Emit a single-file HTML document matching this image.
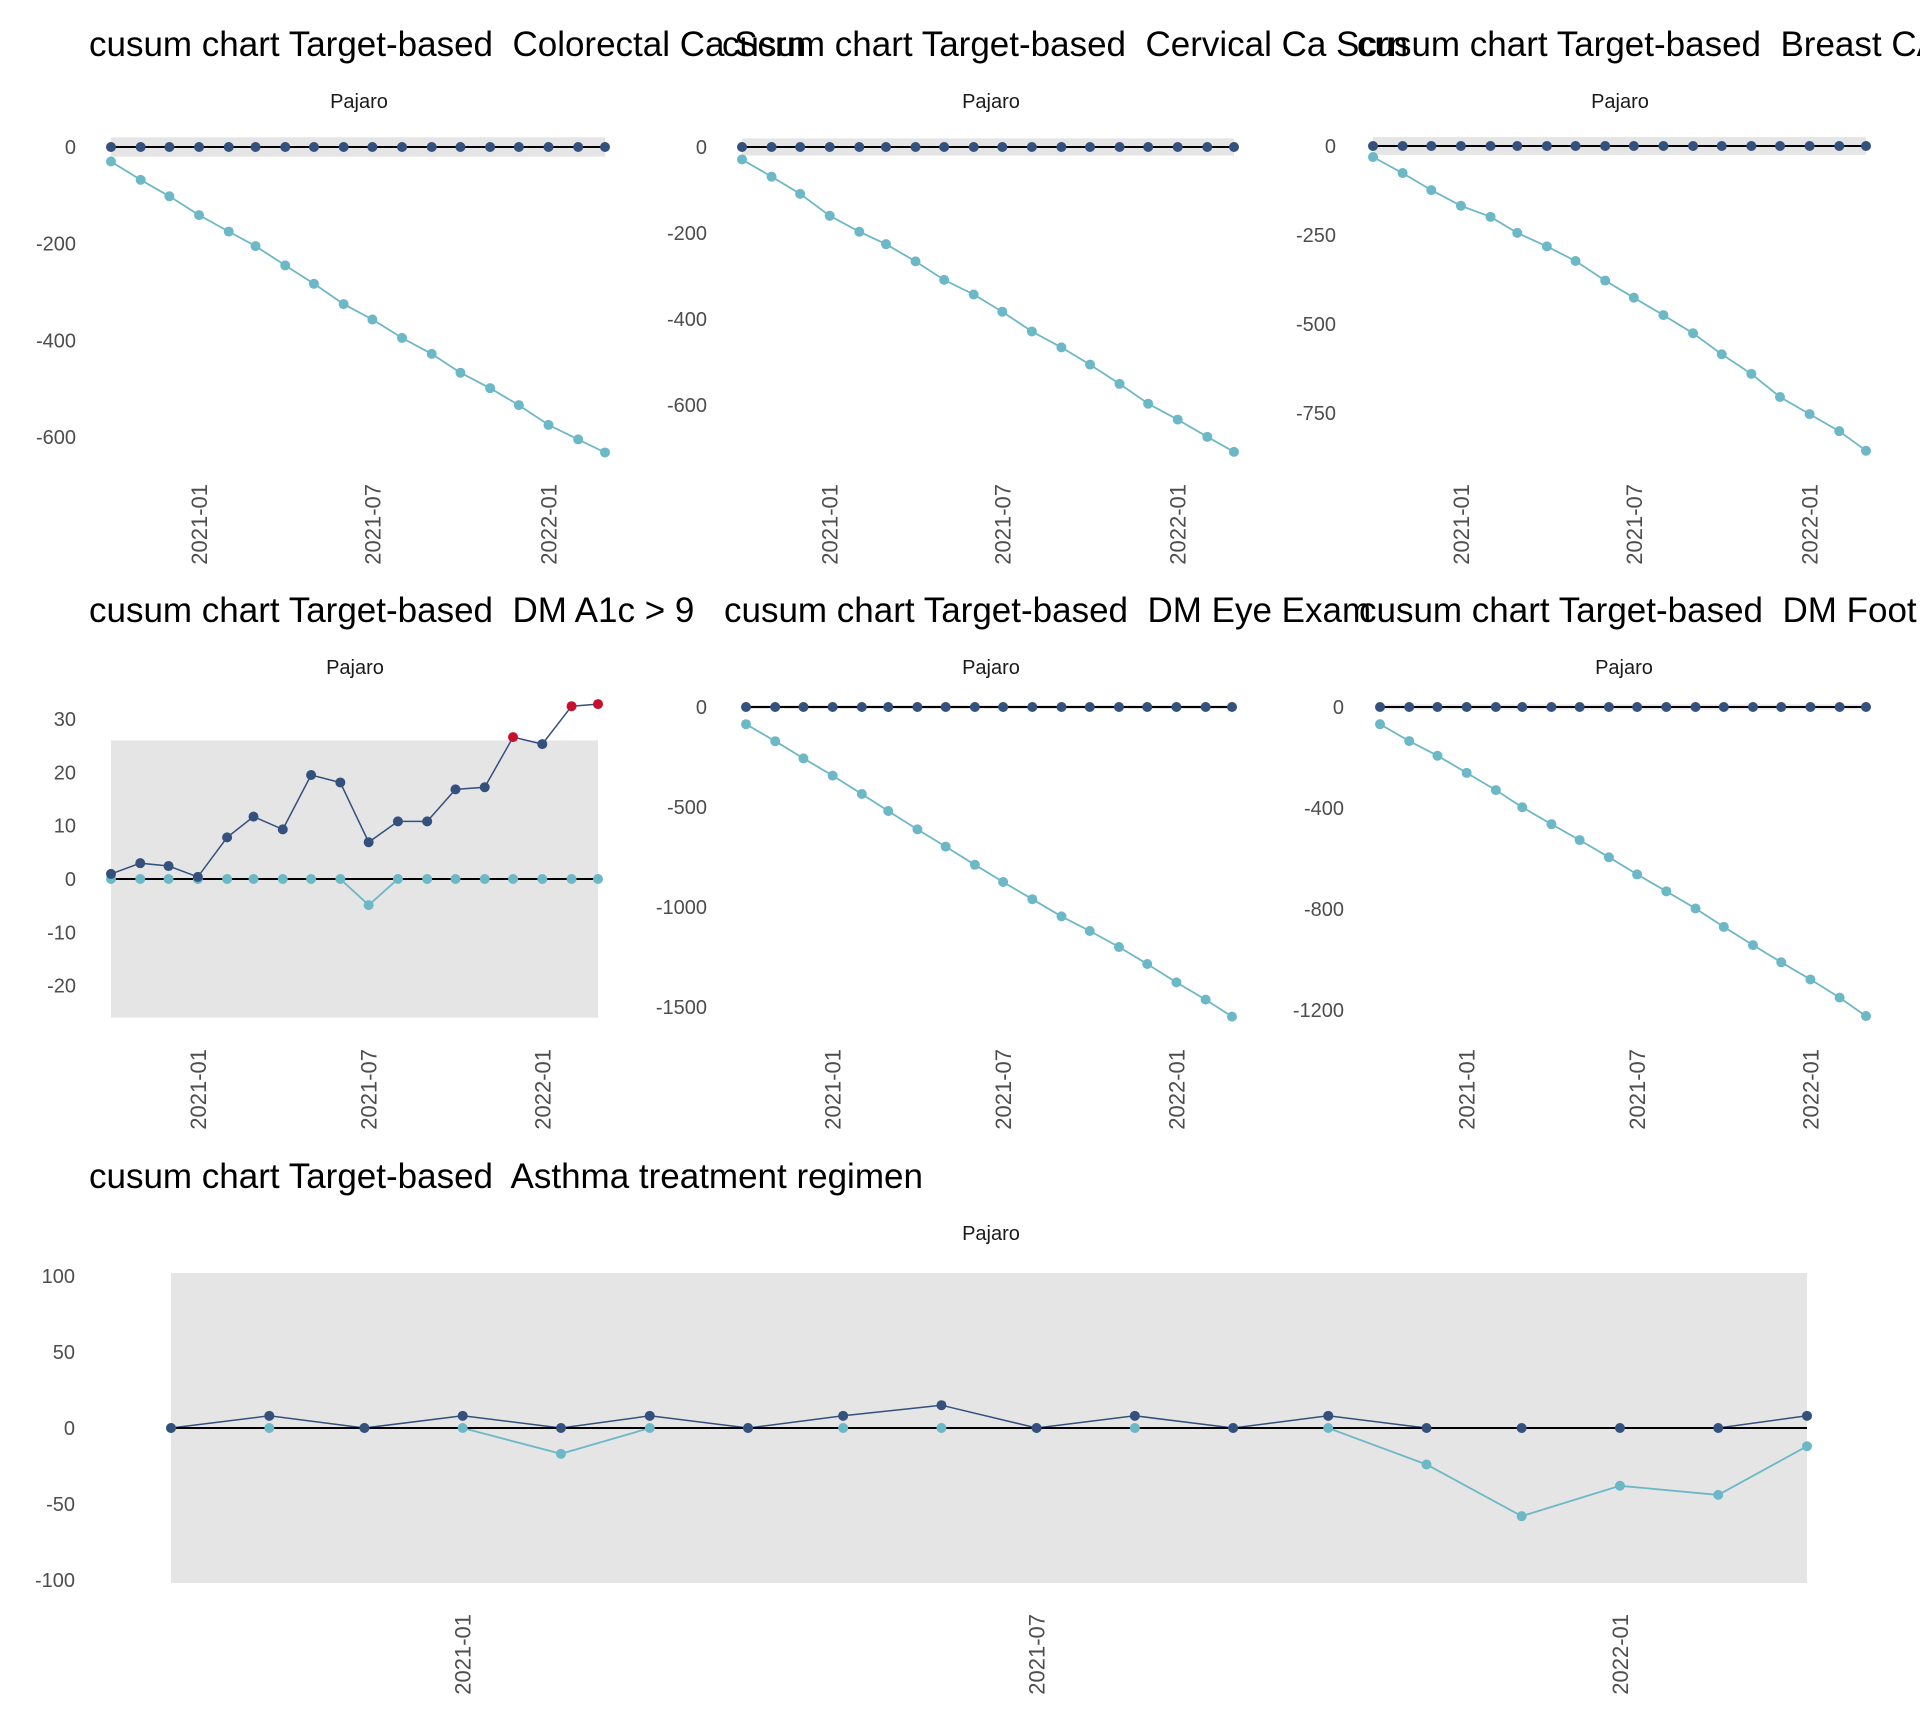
<!DOCTYPE html>
<html><head><meta charset="utf-8"><style>
html,body{margin:0;padding:0;background:#fff;}
svg{display:block;font-family:"Liberation Sans",Arial,sans-serif;}
</style></head><body>
<svg id="c" width="1920" height="1728" viewBox="0 0 1920 1728" xmlns="http://www.w3.org/2000/svg"></svg>
<script>
const months = ["2020-10","2020-11","2020-12","2021-01","2021-02","2021-03","2021-04","2021-05","2021-06","2021-07","2021-08","2021-09","2021-10","2021-11","2021-12","2022-01","2022-02","2022-03"];
const xTickLabels = ["2021-01","2021-07","2022-01"];
const colorectalUpper = [0,0,0,0,0,0,0,0,0,0,0,0,0,0,0,0,0,0];
const colorectalLower = [-30,-68,-102,-141,-175,-205,-245,-283,-325,-357,-395,-428,-467,-499,-534,-575,-605,-632];
const cervicalUpper = [0,0,0,0,0,0,0,0,0,0,0,0,0,0,0,0,0,0];
const cervicalLower = [-29,-69,-109,-160,-197,-226,-266,-309,-343,-383,-429,-466,-506,-551,-597,-634,-674,-709];
const breastUpper = [0,0,0,0,0,0,0,0,0,0,0,0,0,0,0,0,0,0];
const breastLower = [-31,-76,-124,-168,-199,-244,-282,-323,-378,-426,-475,-526,-585,-640,-705,-753,-801,-856];
const a1cUpper = [0.95,2.97,2.43,0.4,7.8,11.7,9.3,19.5,18.1,6.9,10.8,10.8,16.8,17.2,26.6,25.3,32.4,32.8];
const a1cLower = [0,0,0,0,0,0,0,0,0,-4.9,0,0,0,0,0,0,0,0];
const eyeUpper = [0,0,0,0,0,0,0,0,0,0,0,0,0,0,0,0,0,0];
const eyeLower = [-86,-171,-257,-343,-435,-520,-612,-698,-789,-875,-961,-1047,-1120,-1200,-1285,-1377,-1463,-1548];
const footUpper = [0,0,0,0,0,0,0,0,0,0,0,0,0,0,0,0,0,0];
const footLower = [-68,-135,-193,-261,-329,-397,-464,-527,-595,-663,-730,-798,-871,-943,-1011,-1079,-1151,-1224];
const asthmaUpper = [0,8,0,8,0,8,0,8,15,0,8,0,8,0,0,0,0,8];
const asthmaLower = [0,0,0,0,-17,0,0,0,0,0,0,0,0,-24,-58,-38,-44,-12];
const colorectalTicks = [0,-200,-400,-600];
const cervicalTicks = [0,-200,-400,-600];
const breastTicks = [0,-250,-500,-750];
const a1cTicks = [30,20,10,0,-10,-20];
const eyeTicks = [0,-500,-1000,-1500];
const footTicks = [0,-400,-800,-1200];
const asthmaTicks = [100,50,0,-50,-100];
const limits = [20,20,25,26,10,10,102];

const NS="http://www.w3.org/2000/svg";
const svg=document.getElementById('c');
const DARK="#34507c", TEAL="#6cb8c6", RED="#c8102e";
function mk(tag,attrs,parent){const e=document.createElementNS(NS,tag);for(const k in attrs)e.setAttribute(k,attrs[k]);(parent||svg).appendChild(e);return e;}
function t(ms){const [y,m]=ms.split('-').map(Number);return Date.UTC(y,m-1,1);}

const panels=[
 {name:"colorectal",title:"cusum chart Target-based  Colorectal Ca Scrn",tx:89,ty:56,px:359,py:108,x0:111,x1:605,v0:0,p0:147,v1:-600,p1:437,lx:76,xl:484,up:colorectalUpper,lo:colorectalLower,ticks:colorectalTicks,lim:limits[0]},
 {name:"cervical",title:"cusum chart Target-based  Cervical Ca Scrn",tx:722,ty:56,px:991,py:108,x0:742,x1:1234,v0:0,p0:147,v1:-600,p1:405,lx:707,xl:484,up:cervicalUpper,lo:cervicalLower,ticks:cervicalTicks,lim:limits[1]},
 {name:"breast",title:"cusum chart Target-based  Breast CA Scrn",tx:1357,ty:56,px:1620,py:108,x0:1373,x1:1866,v0:0,p0:146,v1:-750,p1:413,lx:1336,xl:484,up:breastUpper,lo:breastLower,ticks:breastTicks,lim:limits[2]},
 {name:"dm-a1c",title:"cusum chart Target-based  DM A1c > 9",tx:89,ty:622,px:355,py:674,x0:111,x1:598,v0:0,p0:879,v1:30,p1:719,lx:76,xl:1049,up:a1cUpper,lo:a1cLower,ticks:a1cTicks,lim:limits[3]},
 {name:"dm-eye",title:"cusum chart Target-based  DM Eye Exam",tx:724,ty:622,px:991,py:674,x0:746,x1:1232,v0:0,p0:707,v1:-1500,p1:1007,lx:707,xl:1049,up:eyeUpper,lo:eyeLower,ticks:eyeTicks,lim:limits[4]},
 {name:"dm-foot",title:"cusum chart Target-based  DM Foot Exam",tx:1359,ty:622,px:1624,py:674,x0:1380,x1:1866,v0:0,p0:707,v1:-1200,p1:1010,lx:1344,xl:1049,up:footUpper,lo:footLower,ticks:footTicks,lim:limits[5]},
 {name:"asthma",title:"cusum chart Target-based  Asthma treatment regimen",tx:89,ty:1188,px:991,py:1240,x0:171,x1:1807,v0:0,p0:1428,v1:100,p1:1276,lx:75,xl:1614,up:asthmaUpper,lo:asthmaLower,ticks:asthmaTicks,lim:limits[6]}
];

const T0=t(months[0]), T1=t(months[months.length-1]);
panels.forEach(p=>{
 const g=mk('g',{});
 
 
 const X=ms=>p.x0+(t(ms)-T0)/(T1-T0)*(p.x1-p.x0);
 const Y=v=>p.p0+(v-p.v0)/(p.v1-p.v0)*(p.p1-p.p0);
 const title=mk('text',{x:p.tx,y:p.ty,'font-size':35,fill:'#000','xml:space':'preserve',style:'white-space:pre'},g);
 title.textContent=p.title;
 
 
 const st=mk('text',{x:p.px,y:p.py,'font-size':20,fill:'#1a1a1a','text-anchor':'middle'},g);
 st.textContent="Pajaro";
 
 
 const top=Y(p.lim), bot=Y(-p.lim);
 const band=mk('rect',{x:p.x0,y:Math.min(top,bot),width:p.x1-p.x0,height:Math.abs(bot-top),fill:'#e5e5e5'},g);
 
 
 p.ticks.forEach(v=>{
  const tl=mk('text',{x:p.lx,y:Y(v)+7,'font-size':20,fill:'#4d4d4d','text-anchor':'end'},g);
  tl.textContent=String(v);
  
  
 });
 xTickLabels.forEach(lb=>{
  const x=X(lb);
  const tl=mk('text',{x:0,y:0,'font-size':22,fill:'#4d4d4d','text-anchor':'end',transform:`translate(${x+8},${p.xl}) rotate(-90)`},g);
  tl.textContent=lb;
  
  
 });
 const lp=months.map((m,i)=>X(m).toFixed(1)+','+Y(p.lo[i]).toFixed(1)).join(' ');
 const ll=mk('polyline',{points:lp,fill:'none',stroke:TEAL,'stroke-width':1.8},g);
 
 
 const up=months.map((m,i)=>X(m).toFixed(1)+','+Y(p.up[i]).toFixed(1)).join(' ');
 const ul=mk('polyline',{points:up,fill:'none',stroke:DARK,'stroke-width':1.5},g);
 
 
 const zl=mk('line',{x1:p.x0,x2:p.x1,y1:Y(0),y2:Y(0),stroke:'#000','stroke-width':2},g);
 
 
 months.forEach((m,i)=>{
  const c=mk('circle',{cx:X(m),cy:Y(p.lo[i]),r:5,fill:TEAL},g);
  
  
 });
 months.forEach((m,i)=>{
  const out=p.up[i]>p.lim;
  const c=mk('circle',{cx:X(m),cy:Y(p.up[i]),r:5,fill:out?RED:DARK},g);
  
  
 });
});
</script>
</body></html>
